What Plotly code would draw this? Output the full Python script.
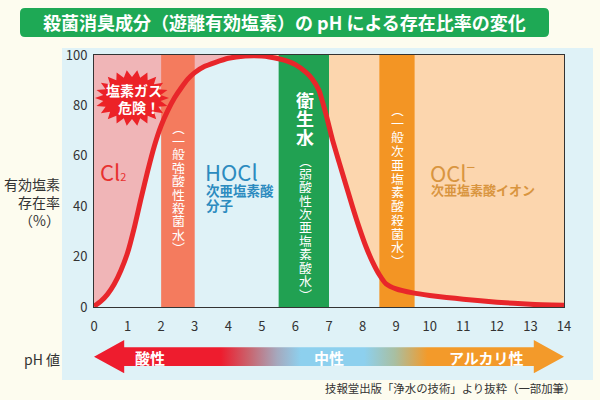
import math
import plotly.graph_objects as go

# ---------------- data ----------------
ph = [0, 0.2, 0.4, 0.6, 0.8, 1.0, 1.2, 1.4, 1.6, 1.8, 2.0, 2.2, 2.4, 2.6, 2.8,
      3.0, 3.3, 3.6, 4.0, 4.5, 5.0, 5.5, 5.8, 6.0, 6.3, 6.5, 6.7, 6.9, 7.1,
      7.3, 7.5, 7.7, 7.9, 8.1, 8.3, 8.5, 8.7, 9.0, 9.5, 10, 10.5, 11, 12, 13, 14]
hocl = [0.3, 2.2, 5, 9, 14.5, 21.5, 31.5, 43, 54, 64, 72, 78, 83, 87, 90.5,
        93, 95.5, 97, 98.7, 99.6, 99.6, 98.5, 97.4, 96.2, 93.3, 90.5, 86, 77, 66.5,
        57.5, 48.6, 39.8, 31.5, 24, 17.8, 12.8, 9.2, 7.2, 5.6, 4.6, 3.8, 3.1, 1.9, 1.1, 0.7]
split_ph = 5.0  # boundary between Cl2 side and OCl- side

x_ticks = list(range(0, 15))
y_ticks = [0, 20, 40, 60, 80, 100]

band_lo = [2.0, 5.5, 8.5]
band_hi = [3.0, 7.0, 9.55]

title_text = "殺菌消臭成分（遊離有効塩素）の pH による存在比率の変化"
source_text = "技報堂出版「浄水の技術」より抜粋（一部加筆）"

# ---------------- style ----------------
FONT = "Noto Sans CJK JP"
CREAM = "#FDFCEF"
PANEL = "#DFF2F7"
PINK = "#F0B5B7"
PEACH = "#FCD6AE"
BAND_COLORS = ["#F47B5E", "#21A152", "#F39524"]
RED = "#E8262A"
TXT = "#333333"

L, R, T, B = 94, 36, 55, 20
W = 600 - L - R
H = 400 - T - B


def fx(px):
    return (px - L) / W


def fy(py):
    return (400 - B - py) / H


fig = go.Figure()

# Cl2 region (above curve, acidic side)
cl_x = [p for p in ph if p <= split_ph]
cl_y = [v for p, v in zip(ph, hocl) if p <= split_ph]
fig.add_trace(go.Scatter(x=cl_x + [split_ph, ph[0]], y=cl_y + [100, 100],
                         fill="toself", fillcolor=PINK, mode="none",
                         hoverinfo="skip", showlegend=False))
# OCl- region (above curve, alkaline side)
oc_x = [p for p in ph if p >= split_ph]
oc_y = [v for p, v in zip(ph, hocl) if p >= split_ph]
fig.add_trace(go.Scatter(x=oc_x + [ph[-1], split_ph], y=oc_y + [100, 100],
                         fill="toself", fillcolor=PEACH, mode="none",
                         hoverinfo="skip", showlegend=False))
# bands
for lo, hi, c in zip(band_lo, band_hi, BAND_COLORS):
    fig.add_trace(go.Scatter(x=[lo, hi, hi, lo], y=[0, 0, 100, 100],
                             fill="toself", fillcolor=c, mode="none",
                             hoverinfo="skip", showlegend=False))
# HOCl curve
fig.add_trace(go.Scatter(x=ph, y=hocl, mode="lines",
                         line=dict(color=RED, width=5, shape="spline", smoothing=0.6),
                         hoverinfo="skip", showlegend=False))

# pH arrow (second subplot)
x0, x1 = x_ticks[0], x_ticks[-1]
hl = 0.9
ax = [x0, x0 + hl, x0 + hl, x1 - hl, x1 - hl, x1, x1 - hl, x1 - hl, x0 + hl, x0 + hl, x0]
ay = [0.5, 1, 0.78, 0.78, 1, 0.5, 0, 0.22, 0.22, 0, 0.5]
fig.add_trace(go.Scatter(
    x=ax, y=ay, xaxis="x2", yaxis="y2", fill="toself", mode="none",
    fillgradient=dict(type="horizontal", colorscale=[
        [0, "#EE1C2E"], [0.27, "#EE1C2E"], [0.33, "#C9646E"], [0.39, "#A5A9BE"],
        [0.44, "#8DD0EE"], [0.575, "#8DD0EE"], [0.64, "#A8BFA2"], [0.71, "#F39A2A"],
        [1, "#F39A2A"]]),
    hoverinfo="skip", showlegend=False))

axis_common = dict(showgrid=False, zeroline=False, showline=True, mirror=True,
                   linecolor="#333333", linewidth=1, ticks="outside",
                   tickcolor="rgba(0,0,0,0)",
                   tickfont=dict(family=FONT, size=13, color=TXT))

fig.update_layout(
    width=600, height=400,
    margin=dict(l=L, r=R, t=T, b=B),
    paper_bgcolor=CREAM, plot_bgcolor=PANEL,
    xaxis=dict(range=[x0, x1], tickvals=x_ticks, ticklen=7, domain=[0, 1],
               anchor="y", **axis_common),
    yaxis=dict(range=[0, 100], tickvals=y_ticks, ticklen=3, domain=[fy(307), 1],
               anchor="x", **axis_common),
    xaxis2=dict(range=[x0, x1], domain=[0, 1], anchor="y2", visible=False),
    yaxis2=dict(range=[0, 1], domain=[fy(373.3), fy(340)], anchor="x2", visible=False),
    showlegend=False,
)

shapes = []
# light blue panel
shapes.append(dict(type="rect", xref="paper", yref="paper",
                   x0=fx(62), x1=fx(593), y0=fy(380), y1=fy(48),
                   fillcolor=PANEL, line=dict(width=0), layer="below"))


# title rounded rect
def rrect(xa, ya, xb, yb, r):
    p = [f"M{fx(xa + r)},{fy(ya)}", f"L{fx(xb - r)},{fy(ya)}",
         f"Q{fx(xb)},{fy(ya)} {fx(xb)},{fy(ya + r)}", f"L{fx(xb)},{fy(yb - r)}",
         f"Q{fx(xb)},{fy(yb)} {fx(xb - r)},{fy(yb)}", f"L{fx(xa + r)},{fy(yb)}",
         f"Q{fx(xa)},{fy(yb)} {fx(xa)},{fy(yb - r)}", f"L{fx(xa)},{fy(ya + r)}",
         f"Q{fx(xa)},{fy(ya)} {fx(xa + r)},{fy(ya)}", "Z"]
    return " ".join(p)


shapes.append(dict(type="path", xref="paper", yref="paper", path=rrect(20, 8, 549, 37, 5),
                   fillcolor="#1EA955", line=dict(width=0), layer="above"))

# starburst
cx, cy = 132, 98
n = 22
pts = []
for i in range(2 * n):
    a = math.pi * i / n
    if i % 2 == 0:
        rx, ry = 37, 28
    else:
        rx, ry = 29, 21
    pts.append((cx + rx * math.cos(a), cy + ry * math.sin(a)))
path = "M" + " L".join(f"{fx(px)},{fy(py)}" for px, py in pts) + " Z"
shapes.append(dict(type="path", xref="paper", yref="paper", path=path,
                   fillcolor="#EC2227", line=dict(width=0), layer="above"))
fig.update_layout(shapes=shapes)

ann = []


def add(text, px, py, size, color, bold=False, xanchor="center", align="center",
        family=FONT, height=None):
    if bold:
        text = f"<b>{text}</b>"
    a = dict(text=text, x=fx(px), y=fy(py), xref="paper", yref="paper",
             showarrow=False, xanchor=xanchor, yanchor="middle", align=align,
             font=dict(family=family, size=size, color=color))
    if height is not None:
        a["height"] = height
        a["borderpad"] = 0
    ann.append(a)


def vtext(chars, px, py0, step, size, color, bold=False):
    for i, c in enumerate(chars):
        add(c, px, py0 + i * step, size, color, bold, height=int(step))


# title
add(title_text, 284.5, 22.5, 18, "white", bold=True)
# source
add(source_text, 577, 388, 11.4, TXT, xanchor="right")
# y axis title
add("有効塩素<br>存在率<br>（%）", 62, 202, 14, TXT, xanchor="right", align="right")
add("pH 値", 62, 359, 14, TXT, xanchor="right")

# region labels
add("Cl<span style='font-size:11px'>2</span>", 98, 171, 22, "#E8312F", xanchor="left")
add("HOCl", 203, 171, 22, "#2C8BBF", xanchor="left")
add("次亜塩素酸", 204, 190, 13.5, "#2C8BBF", bold=True, xanchor="left")
add("分子", 204, 205, 13.5, "#2C8BBF", bold=True, xanchor="left")
add("OCl<sup>−</sup>", 428, 171, 22, "#D9953F", xanchor="left")
add("次亜塩素酸イオン", 429, 189, 13, "#D9953F", bold=True, xanchor="left")

# starburst text
add("塩素ガス", 134, 90, 14, "white", bold=True)
add("危険！", 139, 107, 14, "white", bold=True)

# vertical band texts
vtext("︵一般強酸性殺菌水︶", 178, 127, 13.4, 13, "white")
vtext("衛生水", 305, 100, 18.4, 18, "white", bold=True)
vtext("︵弱酸性次亜塩素酸水︶", 305, 160, 13.4, 13, "white")
vtext("︵一般次亜塩素酸殺菌水︶", 397, 109, 13.8, 13, "white")

# arrow texts
add("酸性", 150, 357, 15, "white", bold=True)
add("中性", 329, 357, 15, "white", bold=True)
add("アルカリ性", 486, 357, 15, "white", bold=True)

fig.update_layout(annotations=ann)

fig.write_html("out.html")
